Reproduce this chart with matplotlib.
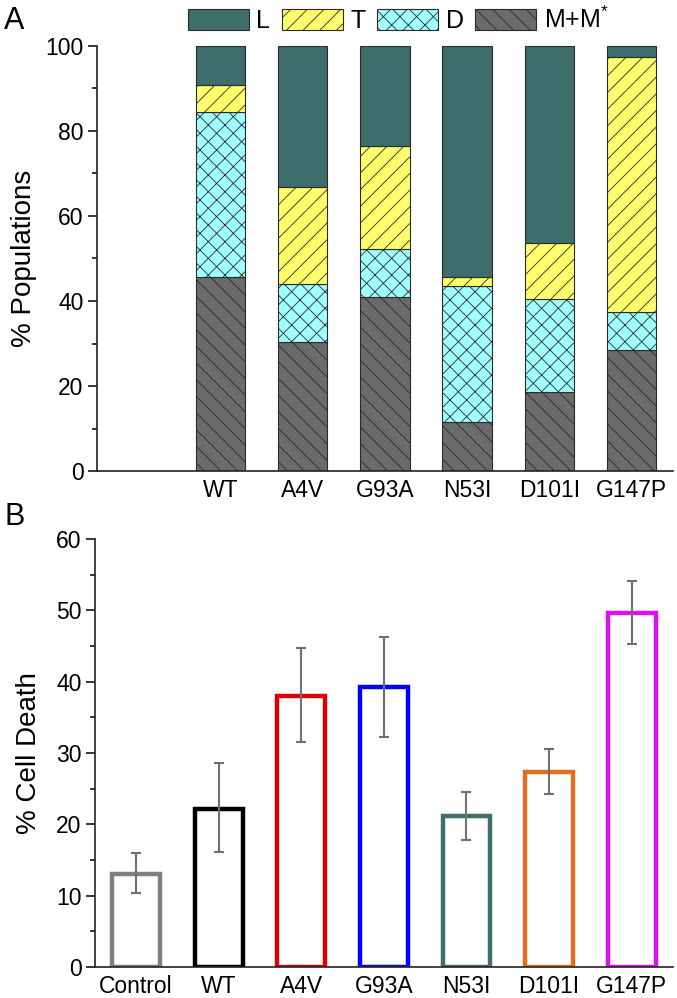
import numpy as np
import matplotlib as mpl
mpl.use('Agg')
import matplotlib.pyplot as plt
from matplotlib.patches import Patch

plt.rcParams['font.family'] = ['Liberation Sans', 'DejaVu Sans']
plt.rcParams['hatch.linewidth'] = 0.6
plt.rcParams['mathtext.fontset'] = 'custom'
plt.rcParams['mathtext.rm'] = 'Liberation Sans'

# Panel A: population fractions (%) per variant, stacked bottom -> top
mutants = ['WT', 'A4V', 'G93A', 'N53I', 'D101I', 'G147P']
pop_M = [45.6, 30.3, 41.0, 11.5, 18.7, 28.4]
pop_D = [38.8, 13.6, 11.2, 32.1, 21.8, 8.9]
pop_T = [6.3, 22.8, 24.3, 2.0, 13.1, 60.0]
pop_L = [9.3, 33.3, 23.5, 54.4, 46.4, 2.7]

# Panel B: cell death (%) with error bars
groups = ['Control', 'WT', 'A4V', 'G93A', 'N53I', 'D101I', 'G147P']
death = [13.1, 22.2, 38.0, 39.3, 21.2, 27.4, 49.6]
death_lo = [10.4, 16.1, 31.5, 32.3, 17.8, 24.3, 45.3]
death_hi = [16.0, 28.6, 44.7, 46.3, 24.5, 30.6, 54.1]

seg_colors = {'L': '#3e6e6c', 'T': '#ffff6e', 'D': '#a0ffff', 'M': '#6b6b6b'}
seg_hatch = {'L': '', 'T': '//', 'D': 'xx', 'M': '\\\\'}
bar_colors = ['#808080', '#000000', '#dd0000', '#0000ff', '#3f6f6f', '#e07020', '#dd11ee']

fig = plt.figure(figsize=(6.77, 9.98), dpi=100)
axA = fig.add_axes([0.143, 0.528, 0.851, 0.426])
axB = fig.add_axes([0.140, 0.031, 0.854, 0.429])

# ---- panel A
x = np.arange(1, len(mutants) + 1)
w = 0.6
edge = '#2a2a2a'
bottom = np.zeros(len(mutants))
for key, vals in [('M', pop_M), ('D', pop_D), ('T', pop_T), ('L', pop_L)]:
    axA.bar(x, vals, w, bottom=bottom, color=seg_colors[key], edgecolor=edge,
            hatch=seg_hatch[key], linewidth=0.8)
    bottom += np.array(vals)

axA.set_xlim(-0.5, 6.5)
axA.set_ylim(0, 100)
axA.set_yticks(np.arange(0, 101, 20))
axA.set_yticks(np.arange(10, 100, 20), minor=True)
axA.set_xticks(x)
axA.set_xticklabels(mutants)
axA.set_ylabel('% Populations', fontsize=20, labelpad=6)

handles = [Patch(facecolor=seg_colors[k], edgecolor=edge, hatch=seg_hatch[k], linewidth=0.8)
           for k in ('L', 'T', 'D', 'M')]
fig.legend(handles, ['L', 'T', 'D', r'M+M$^{*}$'], loc='center',
           bbox_to_anchor=(0.588, 0.980), ncol=4, frameon=False, fontsize=18,
           handlelength=2.45, handleheight=0.95, handletextpad=0.3,
           columnspacing=0.45, borderaxespad=0)

# ---- panel B
xb = np.arange(len(groups))
axB.bar(xb, death, 0.58, color='white', edgecolor=bar_colors, linewidth=3.2, zorder=2)
yerr = [np.array(death) - np.array(death_lo), np.array(death_hi) - np.array(death)]
axB.errorbar(xb, death, yerr=yerr, fmt='none', ecolor='#707070', elinewidth=1.5,
             capsize=3.6, capthick=1.5, zorder=3)
axB.set_xlim(-0.5, 6.5)
axB.set_ylim(0, 60)
axB.set_yticks(np.arange(0, 61, 10))
axB.set_yticks(np.arange(5, 60, 10), minor=True)
axB.set_xticks(xb)
axB.set_xticklabels(groups)
axB.set_ylabel('% Cell Death', fontsize=20, labelpad=10)

for ax in (axA, axB):
    for s in ('top', 'right'):
        ax.spines[s].set_visible(False)
    for s in ('left', 'bottom'):
        ax.spines[s].set_linewidth(1.2)
        ax.spines[s].set_color('#222222')
    ax.tick_params(axis='y', which='major', length=6.5, width=1.1, labelsize=16.5, pad=3)
    ax.tick_params(axis='y', which='minor', length=3.6, width=1.1)
    ax.tick_params(axis='x', length=0, labelsize=16.5, pad=6)

fig.text(0.006, 0.979, 'A', fontsize=22, va='center')
fig.text(0.006, 0.482, 'B', fontsize=22, va='center')

fig.savefig('out.png', dpi=100)
